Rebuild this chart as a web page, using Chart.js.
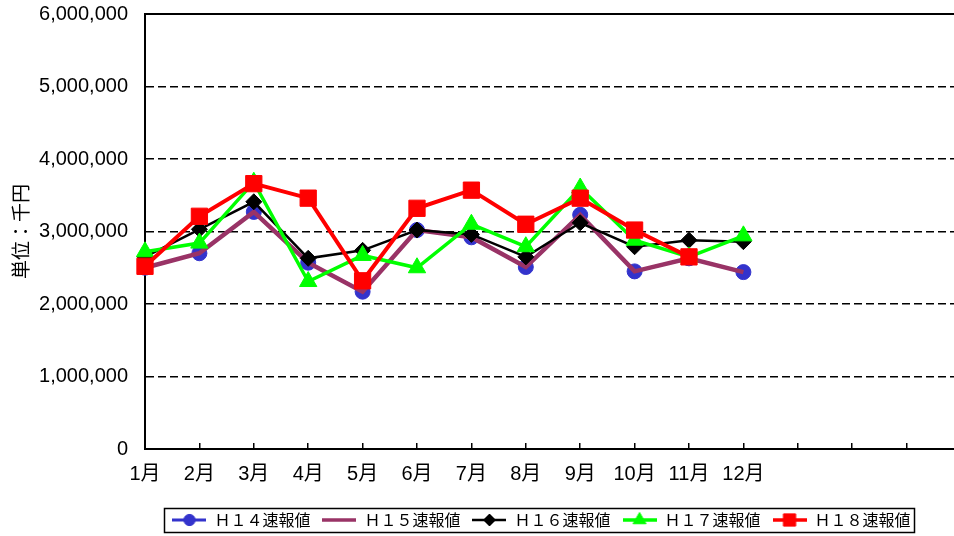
<!DOCTYPE html>
<html>
<head>
<meta charset="utf-8">
<script src="https://cdn.jsdelivr.net/npm/chart.js@4/dist/chart.umd.min.js"></script>
<style>
  html, body { margin: 0; padding: 0; background: #fff; overflow: hidden; }
  #wrap { width: 954px; height: 536px; overflow: hidden; }
  canvas { display: block; }
</style>
</head>
<body>
<div id="wrap"><canvas id="salesChart" width="980" height="536"></canvas></div>
<script>
// Monthly figures, unit: thousand yen
const months = ['1月', '2月', '3月', '4月', '5月', '6月', '7月', '8月', '9月', '10月', '11月', '12月'];
const spareSlots = ['', '', '', ''];   // empty category slots to the right of 12月
const seriesNames = ['Ｈ１４速報値', 'Ｈ１５速報値', 'Ｈ１６速報値', 'Ｈ１７速報値', 'Ｈ１８速報値'];

const h14 = [2500000, 2700000, 3270000, 2570000, 2170000, 3020000, 2920000, 2510000, 3230000, 2450000, 2630000, 2440000];
const h15 = [2500000, 2700000, 3270000, 2570000, 2170000, 3020000, 2920000, 2510000, 3230000, 2450000, 2630000, 2440000];
const h16 = [2650000, 3030000, 3410000, 2630000, 2740000, 3020000, 2960000, 2650000, 3120000, 2790000, 2880000, 2860000];
const h17 = [2720000, 2840000, 3680000, 2310000, 2670000, 2500000, 3100000, 2790000, 3600000, 2880000, 2650000, 2940000];
const h18 = [2520000, 3210000, 3660000, 3460000, 2320000, 3320000, 3570000, 3100000, 3460000, 3020000, 2650000, null];

const yMin = 0;
const yMax = 6000000;
const yStep = 1000000;

const LEGEND_CX = 541;
const LEGEND_CY = 520;

Chart.defaults.font.family = "'Liberation Sans', Arial, 'Noto Sans CJK JP', sans-serif";
Chart.defaults.color = '#000';

function lineSeries(label, data, color, width, style, radius, order) {
  return {
    label: label,
    data: data,
    borderColor: color,
    backgroundColor: color,
    borderWidth: width,
    pointStyle: style || 'circle',
    pointRadius: radius,
    pointBackgroundColor: color,
    pointBorderColor: color,
    pointBorderWidth: 1,
    tension: 0,
    spanGaps: false,
    order: order
  };
}

const datasets = [
  lineSeries(seriesNames[0], h14, '#3333cc', 3, 'circle', 7.5, 4),
  lineSeries(seriesNames[1], h15, '#993366', 4.5, 'circle', 0, 3),
  lineSeries(seriesNames[2], h16, '#000000', 2.5, 'rectRot', 8, 2),
  lineSeries(seriesNames[3], h17, '#00ff00', 3.5, 'triangle', 10, 1),
  lineSeries(seriesNames[4], h18, '#ff0000', 4, 'rect', 11.5, 0)
];

// little line+marker pictures for the legend
function legendIcon(ds) {
  const c = document.createElement('canvas');
  c.width = 34; c.height = 16;
  const g = c.getContext('2d');
  g.strokeStyle = ds.borderColor;
  g.lineWidth = Math.min(ds.borderWidth, 3.5);
  g.beginPath(); g.moveTo(0, 8); g.lineTo(34, 8); g.stroke();
  if (ds.pointRadius > 0) {
    g.fillStyle = ds.pointBackgroundColor;
    g.strokeStyle = ds.pointBorderColor;
    g.lineWidth = 1;
    Chart.helpers.drawPoint(g, { pointStyle: ds.pointStyle, radius: ds.pointRadius * 0.75, borderWidth: 1, rotation: 0 }, 17, 8);
  }
  return c;
}
const icons = datasets.map(legendIcon);

const framePlugin = {
  id: 'frame',
  afterUpdate(chart) {
    const lg = chart.legend;
    const hb = lg && lg.legendHitBoxes;
    if (!hb || !hb.length) return;
    const first = hb[0], last = hb[hb.length - 1];
    const w = last.left + last.width - first.left;
    const dx = Math.round(LEGEND_CX - w / 2 - first.left);
    const dy = Math.round(LEGEND_CY - (first.top + first.height / 2));
    lg.left += dx; lg.right += dx; lg.top += dy; lg.bottom += dy;
    hb.forEach(b => { b.left += dx; b.top += dy; });
  },
  afterDraw(chart) {
    const { ctx, chartArea: a } = chart;
    ctx.save();
    ctx.strokeStyle = '#000';
    ctx.lineWidth = 2;
    ctx.beginPath();
    ctx.moveTo(a.left, a.top);
    ctx.lineTo(a.right, a.top);
    ctx.stroke();
    const hb = chart.legend.legendHitBoxes;
    if (hb && hb.length) {
      const first = hb[0], last = hb[hb.length - 1];
      const x0 = first.left - 8, x1 = last.left + last.width + 4;
      const y0 = first.top + first.height / 2 - 12, y1 = first.top + first.height / 2 + 12;
      ctx.lineWidth = 1.5;
      ctx.strokeRect(Math.round(x0) + 0.5, Math.round(y0) + 0.5, Math.round(x1 - x0), Math.round(y1 - y0));
    }
    ctx.restore();
  }
};

new Chart(document.getElementById('salesChart'), {
  type: 'line',
  data: {
    labels: months.concat(spareSlots),
    datasets: datasets
  },
  options: {
    responsive: false,
    animation: false,
    events: [],
    layout: { padding: { left: 0, right: 15, top: 14, bottom: 0 }, autoPadding: false },
    scales: {
      x: {
        offset: false,
        grid: { drawOnChartArea: false, drawTicks: true, tickLength: -6, color: '#000', lineWidth: 1.5 },
        border: { display: true, color: '#000', width: 2 },
        ticks: { autoSkip: false, maxRotation: 0, padding: 19, font: { size: 20 } },
        afterFit(scale) {
          const lg = scale.chart.legend;
          scale.height = scale.chart.height - 449 - (lg ? lg.height : 0);
        }
      },
      y: {
        min: yMin,
        max: yMax,
        grid: { color: '#000', lineWidth: 1.5, drawTicks: false },
        border: { display: true, color: '#000', width: 2, dash: [8, 4] },
        ticks: {
          stepSize: yStep,
          padding: 17,
          font: { size: 20 },
          callback: v => v.toLocaleString('en-US')
        },
        title: {
          display: true,
          text: '単位：千円',
          font: { family: "'Noto Sans CJK JP', sans-serif", size: 19 },
          padding: { top: 9, bottom: 0 }
        },
        afterFit(scale) {
          scale.width = 145;
          scale.paddingTop = 0;
          scale.paddingBottom = 0;
        }
      }
    },
    plugins: {
      legend: {
        display: true,
        position: 'bottom',
        labels: {
          usePointStyle: true,
          pointStyleWidth: 34,
          padding: 12,
          font: { family: "'Noto Sans CJK JP', sans-serif", size: 16 },
          sort: (a, b) => a.datasetIndex - b.datasetIndex,
          generateLabels(chart) {
            const items = Chart.defaults.plugins.legend.labels.generateLabels(chart);
            items.forEach(it => { it.pointStyle = icons[it.datasetIndex]; });
            return items;
          }
        }
      },
      tooltip: { enabled: false }
    }
  },
  plugins: [framePlugin]
});
</script>
</body>
</html>
